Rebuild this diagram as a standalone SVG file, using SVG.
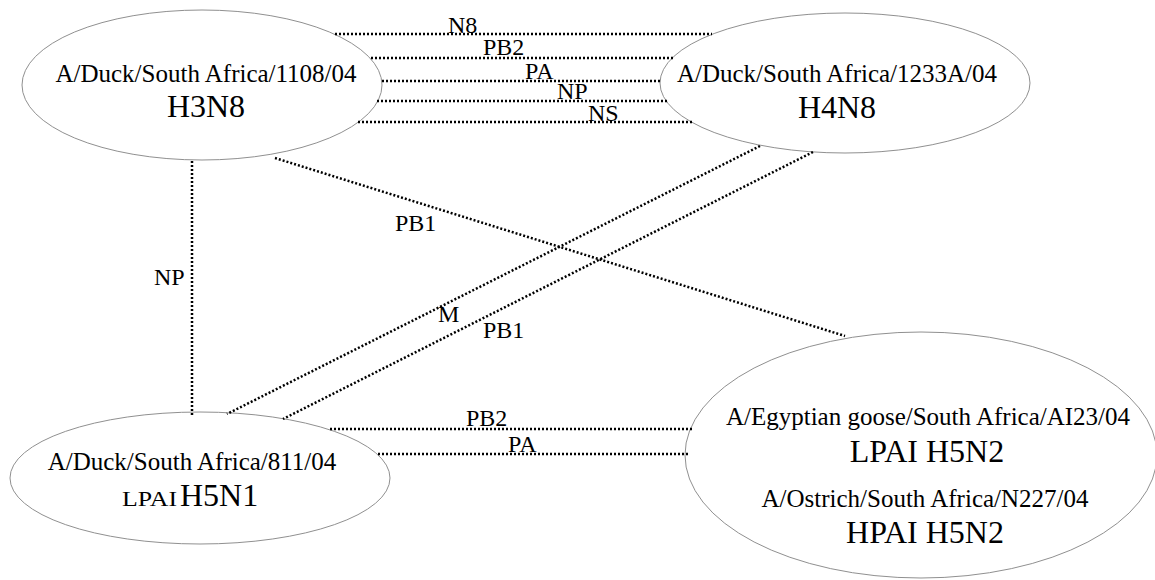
<svg xmlns="http://www.w3.org/2000/svg" width="1155" height="580" viewBox="0 0 1155 580">
<style>
.node{fill:#fff;stroke:#909090;stroke-width:1}
.conn{stroke:#000;stroke-width:2.5;stroke-dasharray:2 2;fill:none}
text{font-family:"Liberation Serif","Times New Roman",serif;fill:#000}
.name{font-size:25px;text-anchor:middle}
.sub{font-size:32px;text-anchor:middle}
.lbl{font-size:24px}
</style>
<rect width="1155" height="580" fill="#fff"/>
<g id="n-h3n8">
<ellipse class="node" cx="202" cy="85" rx="180" ry="75"/>
<text class="name" x="206" y="82">A/Duck/South Africa/1108/04</text>
<text class="sub" x="206" y="117">H3N8</text>
</g>
<g id="n-h4n8">
<ellipse class="node" cx="845" cy="83" rx="185" ry="70"/>
<text class="name" x="837" y="82">A/Duck/South Africa/1233A/04</text>
<text class="sub" x="837" y="118">H4N8</text>
</g>
<g id="n-h5n1">
<ellipse class="node" cx="200" cy="478" rx="190" ry="66"/>
<text class="name" x="192" y="470">A/Duck/South Africa/811/04</text>
<text x="122" y="506" font-size="21" textLength="55" lengthAdjust="spacingAndGlyphs">LPAI</text>
<text x="180" y="506" font-size="32">H5N1</text>
</g>
<g id="n-h5n2">
<ellipse class="node" cx="921" cy="455" rx="236" ry="123"/>
<text class="name" x="928" y="425">A/Egyptian goose/South Africa/AI23/04</text>
<text class="sub" x="927" y="462">LPAI H5N2</text>
<text class="name" x="925" y="507">A/Ostrich/South Africa/N227/04</text>
<text class="sub" x="925" y="543">HPAI H5N2</text>
</g>
<g id="connectors">
<line class="conn" x1="335" y1="34" x2="712" y2="34"/>
<line class="conn" x1="371" y1="58" x2="673" y2="58"/>
<line class="conn" x1="382" y1="81" x2="662" y2="81"/>
<line class="conn" x1="377" y1="101" x2="668" y2="101"/>
<line class="conn" x1="358" y1="122" x2="694" y2="122"/>
<line class="conn" x1="192" y1="161" x2="192" y2="417"/>
<line class="conn" x1="275" y1="158" x2="845" y2="336"/>
<line class="conn" x1="760" y1="146" x2="227" y2="414"/>
<line class="conn" x1="813" y1="152" x2="283" y2="419"/>
<line class="conn" x1="330" y1="429" x2="694" y2="429"/>
<line class="conn" x1="378" y1="454" x2="689" y2="454"/>
<text class="lbl" x="448" y="33">N8</text>
<text class="lbl" x="483" y="55">PB2</text>
<text class="lbl" x="525" y="79">PA</text>
<text class="lbl" x="557" y="99">NP</text>
<text class="lbl" x="588" y="121">NS</text>
<text class="lbl" x="395" y="231">PB1</text>
<text class="lbl" x="154" y="285">NP</text>
<text class="lbl" x="438" y="322">M</text>
<text class="lbl" x="483" y="338">PB1</text>
<text class="lbl" x="466" y="426">PB2</text>
<text class="lbl" x="508" y="452">PA</text>
</g>
</svg>
